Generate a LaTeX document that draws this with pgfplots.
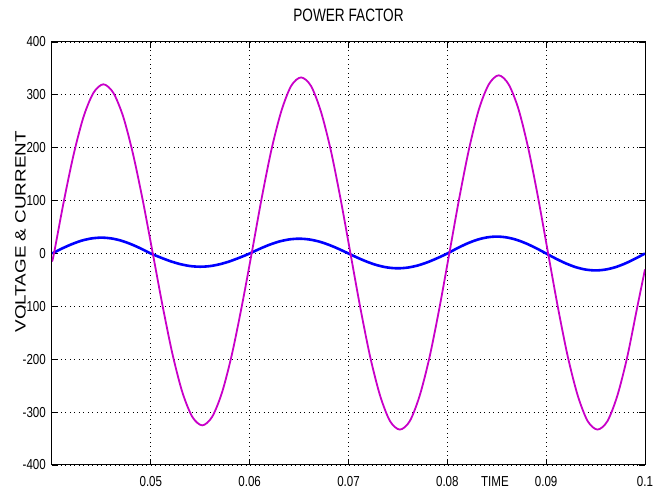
\documentclass[border=0pt]{standalone}
\usepackage{fontspec}
\setmainfont{Liberation Sans}
\newfontfamily\tickfont[FakeStretch=0.8]{Liberation Sans}
\newfontfamily\titlefont[FakeStretch=0.76]{Liberation Sans}
\usepackage{graphicx}
\usepackage{pgfplots}
\pgfplotsset{compat=1.18}
\definecolor{vmag}{RGB}{200,0,200}
\definecolor{iblue}{RGB}{0,0,255}

\begin{document}
\begin{tikzpicture}
\begin{axis}[
    scale only axis,
    width=593bp, height=423bp,
    xmin=0.04, xmax=0.1,
    ymin=-400, ymax=400,
    xtick={0.05,0.06,0.07,0.08,0.09,0.1},
    xticklabels={0.05,0.06,0.07,0.08,0.09,0.1},
    ytick={-400,-300,-200,-100,0,100,200,300,400},
    yticklabels={-400,-300,-200,-100,0,100,200,300,400},
    tick align=inside,
    xtick pos=both, ytick pos=both,
    major tick length=6bp,
    tick style={black, line width=0.8bp},
    grid=major,
    grid style={black, line width=0.8bp, dash pattern=on 0.9bp off 3.6bp},
    axis line style={black, line width=1bp},
    ticklabel style={font=\tickfont\fontsize{14.5}{16}\selectfont},
    xticklabel style={anchor=base, yshift=-22bp},
    yticklabel style={anchor=east, inner sep=0pt, xshift=-6bp},
    title={POWER FACTOR},
    title style={font=\titlefont\fontsize{18}{20}\selectfont, at={(axis description cs:0.5,1)}, anchor=base, yshift=15bp},
    xlabel={TIME},
    xlabel style={font=\tickfont\fontsize{14.5}{16}\selectfont, at={(axis description cs:0.747,0)}, anchor=base, yshift=-22bp},
    ylabel={\scalebox{1.26}[1]{VOLTAGE \& CURRENT}},
    ylabel style={font=\fontsize{15}{17}\selectfont, at={(axis description cs:-0.044,0.551)}, anchor=south, inner sep=0pt},
]
% current (blue)
\addplot[iblue, line width=2.6bp, smooth] coordinates {
(0.040,0) (0.041,9.3) (0.042,17.6) (0.043,24.3) (0.044,28.5) (0.045,30) (0.046,28.5) (0.047,24.3) (0.048,17.6) (0.049,9.3)
(0.050,0) (0.051,-7.7) (0.052,-14.7) (0.053,-20.2) (0.054,-23.8) (0.055,-25) (0.056,-23.8) (0.057,-20.2) (0.058,-14.7) (0.059,-7.7)
(0.060,0) (0.061,8.7) (0.062,16.5) (0.063,22.7) (0.064,26.6) (0.065,28) (0.066,26.6) (0.067,22.7) (0.068,16.5) (0.069,8.7)
(0.070,0) (0.071,-8.7) (0.072,-16.5) (0.073,-22.7) (0.074,-26.6) (0.075,-28) (0.076,-26.6) (0.077,-22.7) (0.078,-16.5) (0.079,-8.7)
(0.080,0) (0.081,9.9) (0.082,18.8) (0.083,25.9) (0.084,30.4) (0.085,32) (0.086,30.4) (0.087,25.9) (0.088,18.8) (0.089,9.9)
(0.090,0) (0.091,-9.9) (0.092,-18.8) (0.093,-25.9) (0.094,-30.4) (0.095,-32) (0.096,-30.4) (0.097,-25.9) (0.098,-18.8) (0.099,-9.9)
(0.100,0)
};
% voltage (magenta)
\addplot[vmag, line width=1.8bp, smooth] coordinates {
(0.0400,-15)
(0.0402,0) (0.0412,99) (0.0422,188) (0.0432,259) (0.0442,304) (0.0452,320) (0.0462,304) (0.0472,259) (0.0482,188) (0.0492,99)
(0.0502,0) (0.0512,-100) (0.0522,-191) (0.0532,-263) (0.0542,-309) (0.0552,-325) (0.0562,-309) (0.0572,-263) (0.0582,-191) (0.0592,-100)
(0.0602,0) (0.0612,103) (0.0622,196) (0.0632,269) (0.0642,317) (0.0652,333) (0.0662,317) (0.0672,269) (0.0682,196) (0.0692,103)
(0.0702,0) (0.0712,-103) (0.0722,-196) (0.0732,-269) (0.0742,-317) (0.0752,-333) (0.0762,-317) (0.0772,-269) (0.0782,-196) (0.0792,-103)
(0.0802,0) (0.0812,104) (0.0822,198) (0.0832,273) (0.0842,320) (0.0852,337) (0.0862,320) (0.0872,273) (0.0882,198) (0.0892,104)
(0.0902,0) (0.0912,-103) (0.0922,-196) (0.0932,-269) (0.0942,-317) (0.0952,-333) (0.0962,-317) (0.0972,-269) (0.0982,-196) (0.0992,-103)
(0.1000,-30)
};
\end{axis}
\pgfresetboundingbox
\path (-52bp,-24bp) rectangle (602bp,465bp);
\end{tikzpicture}
\end{document}
